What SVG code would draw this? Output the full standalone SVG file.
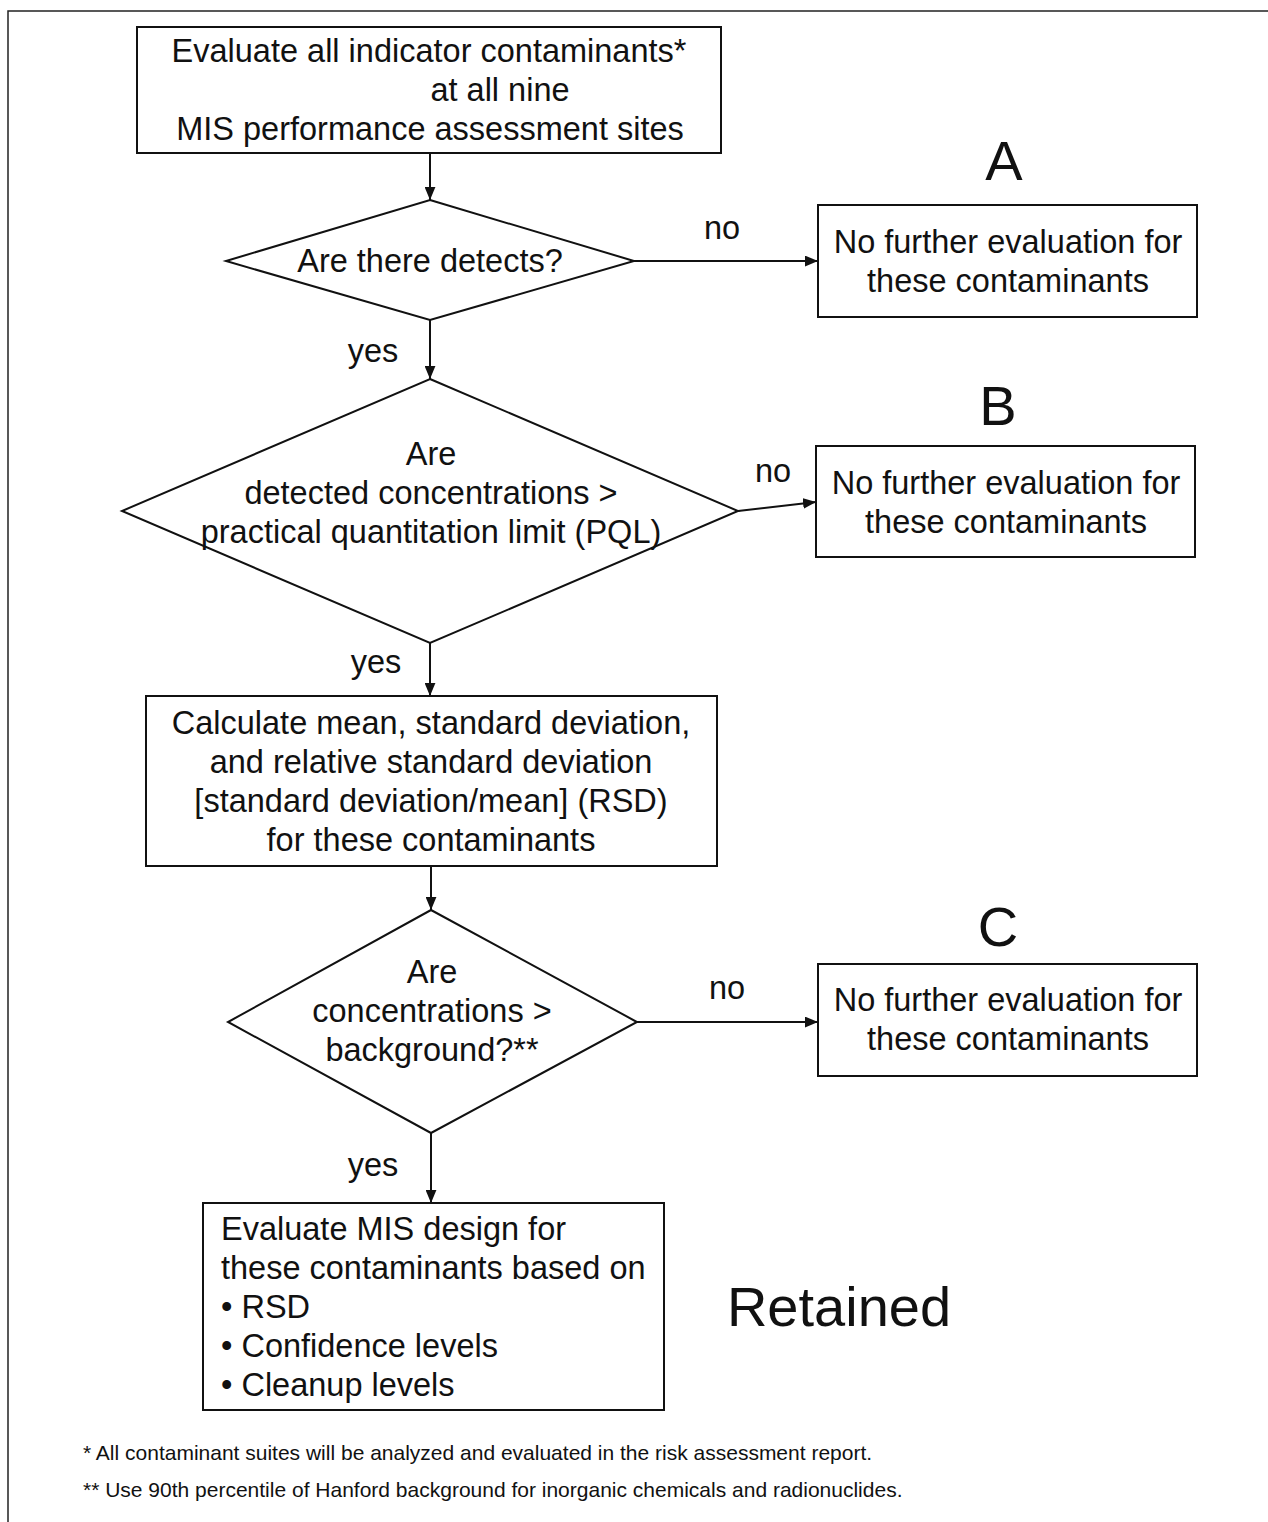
<svg xmlns="http://www.w3.org/2000/svg" width="1268" height="1522" viewBox="0 0 1268 1522">
<style>
text{font-family:"Liberation Sans",Arial,sans-serif;fill:#111}
.t{font-size:32.5px;text-anchor:middle}
.l{font-size:32.5px}
.big{font-size:56px;text-anchor:middle}
.fn{font-size:21px}
.s{fill:#fff;stroke:#111;stroke-width:2}
.c{fill:none;stroke:#111;stroke-width:2}
</style>
<defs>
<marker id="ah" viewBox="0 0 12 10" refX="12" refY="5" markerWidth="13" markerHeight="11" orient="auto" markerUnits="userSpaceOnUse">
<path d="M0,0 L12,5 L0,10 z" fill="#111"/>
</marker>
</defs>
<rect x="0" y="0" width="1268" height="1522" fill="#fff"/>
<rect x="8" y="11" width="1300" height="1600" fill="none" stroke="#222" stroke-width="1.5"/>

<g id="connectors">
<line class="c" x1="430" y1="153" x2="430" y2="200" marker-end="url(#ah)"/>
<line class="c" x1="634" y1="261" x2="818" y2="261" marker-end="url(#ah)"/>
<line class="c" x1="430" y1="320" x2="430" y2="379" marker-end="url(#ah)"/>
<line class="c" x1="738" y1="511" x2="816" y2="502" marker-end="url(#ah)"/>
<line class="c" x1="430" y1="643" x2="430" y2="696" marker-end="url(#ah)"/>
<line class="c" x1="431" y1="866" x2="431" y2="910" marker-end="url(#ah)"/>
<line class="c" x1="637" y1="1022" x2="818" y2="1022" marker-end="url(#ah)"/>
<line class="c" x1="431" y1="1133" x2="431" y2="1203" marker-end="url(#ah)"/>
<text class="t" x="722" y="239">no</text>
<text class="t" x="373" y="362">yes</text>
<text class="t" x="773" y="482">no</text>
<text class="t" x="376" y="673">yes</text>
<text class="t" x="727" y="999">no</text>
<text class="t" x="373" y="1176">yes</text>
</g>

<g id="start">
<rect class="s" x="137" y="27" width="584" height="126"/>
<text class="t" x="429" y="62">Evaluate all indicator contaminants*</text>
<text class="t" x="500" y="101">at all nine</text>
<text class="t" x="430" y="140">MIS performance assessment sites</text>
</g>

<g id="d1">
<polygon class="s" points="430,200 634,261 430,320 226,261"/>
<text class="t" x="430" y="272">Are there detects?</text>
</g>

<g id="boxA">
<rect class="s" x="818" y="205" width="379" height="112"/>
<text class="t" x="1008" y="253">No further evaluation for</text>
<text class="t" x="1008" y="292">these contaminants</text>
</g>
<text class="big" x="1004" y="180">A</text>

<g id="d2">
<polygon class="s" points="430,379 738,511 430,643 122,511"/>
<text class="t" x="431" y="465">Are</text>
<text class="t" x="431" y="504">detected concentrations &gt;</text>
<text class="t" x="431" y="543">practical quantitation limit (PQL)</text>
</g>

<g id="boxB">
<rect class="s" x="816" y="446" width="379" height="111"/>
<text class="t" x="1006" y="494">No further evaluation for</text>
<text class="t" x="1006" y="533">these contaminants</text>
</g>
<text class="big" x="998" y="425">B</text>

<g id="calc">
<rect class="s" x="146" y="696" width="571" height="170"/>
<text class="t" x="431" y="734">Calculate mean, standard deviation,</text>
<text class="t" x="431" y="773">and relative standard deviation</text>
<text class="t" x="431" y="812">[standard deviation/mean] (RSD)</text>
<text class="t" x="431" y="851">for these contaminants</text>
</g>

<g id="d3">
<polygon class="s" points="431,910 637,1022 431,1133 228,1022"/>
<text class="t" x="432" y="983">Are</text>
<text class="t" x="432" y="1022">concentrations &gt;</text>
<text class="t" x="432" y="1061">background?**</text>
</g>

<g id="boxC">
<rect class="s" x="818" y="964" width="379" height="112"/>
<text class="t" x="1008" y="1011">No further evaluation for</text>
<text class="t" x="1008" y="1050">these contaminants</text>
</g>
<text class="big" x="998" y="946">C</text>

<g id="final">
<rect class="s" x="203" y="1203" width="461" height="207"/>
<text class="l" x="221" y="1240">Evaluate MIS design for</text>
<text class="l" x="221" y="1279">these contaminants based on</text>
<text class="l" x="221" y="1318">• RSD</text>
<text class="l" x="221" y="1357">• Confidence levels</text>
<text class="l" x="221" y="1396">• Cleanup levels</text>
</g>
<text class="big" x="839" y="1326">Retained</text>

<text class="fn" x="83" y="1460">* All contaminant suites will be analyzed and evaluated in the risk assessment report.</text>
<text class="fn" x="83" y="1497">** Use 90th percentile of Hanford background for inorganic chemicals and radionuclides.</text>
</svg>
